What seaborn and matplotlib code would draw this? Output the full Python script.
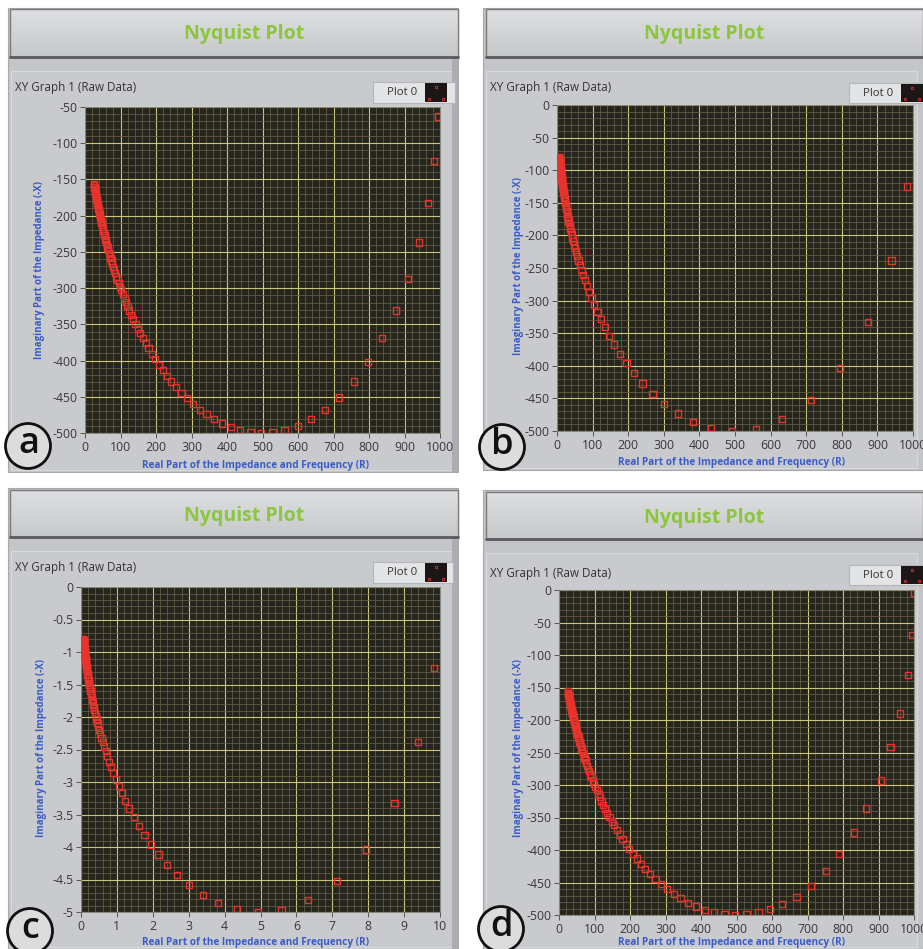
import numpy as np
import matplotlib
matplotlib.use("Agg")
import matplotlib.pyplot as plt
import seaborn as sns
import pandas as pd
from matplotlib.patches import Rectangle, Circle
from matplotlib.ticker import MultipleLocator, FuncFormatter
from matplotlib.colors import LinearSegmentedColormap

# ---------------- data ----------------
A_X = [996, 984, 966, 940, 910, 875, 837, 797, 757, 716,
       676, 636, 599, 562, 528, 496, 466, 437, 411, 386,
       364, 342, 323, 304, 287, 272, 257, 243, 231, 219,
       208, 197, 188, 179, 171, 163, 155, 149, 142, 136,
       130, 125, 120, 115, 111, 106, 102, 98.6, 95.0, 91.6,
       88.3, 85.2, 82.3, 79.5, 76.9, 74.4, 72.0, 69.7, 67.5, 65.4,
       63.4, 61.5, 59.7, 58.0, 56.3, 54.7, 53.1, 51.7, 50.3, 48.9,
       47.6, 46.4, 45.1, 44.0, 42.9, 41.8, 40.8, 39.8, 38.8, 37.9,
       37.0, 36.1, 35.3, 34.5, 33.7, 32.9, 32.2, 31.5, 30.8, 30.2,
       29.5, 28.9, 28.3, 27.7, 27.2, 26.6, 26.1, 25.6, 25.1]
A_Y = [-63, -124, -183, -237, -287, -331, -369, -402, -429, -451,
       -468, -481, -490, -496, -499, -500, -499, -496, -492, -487,
       -481, -474, -468, -460, -452, -445, -437, -429, -421, -413,
       -406, -398, -391, -383, -376, -369, -362, -356, -349, -343,
       -337, -331, -325, -319, -314, -308, -303, -298, -293, -288,
       -284, -279, -275, -271, -266, -262, -258, -255, -251, -247,
       -244, -240, -237, -234, -230, -227, -224, -221, -218, -216,
       -213, -210, -208, -205, -203, -200, -198, -195, -193, -191,
       -189, -187, -185, -182, -180, -178, -177, -175, -173, -171,
       -169, -167, -166, -164, -163, -161, -160, -158, -156]

B_X = [984.1, 939.4, 873.2, 794.9, 712.7, 632.7, 558.6, 492.1, 433.6, 382.7,
       338.8, 301.0, 268.4, 240.3, 216.0, 195.0, 176.6, 160.6, 146.6, 134.2,
       123.3, 113.6, 104.9, 97.2, 90.2, 84.0, 78.4, 73.3, 68.7, 64.4,
       60.6, 57.1, 53.9, 50.9, 48.2, 45.7, 43.3, 41.2, 39.2, 37.3,
       35.6, 34.0, 32.4, 31.0, 29.7, 28.5, 27.3, 26.2, 25.2, 24.2,
       23.3, 22.4, 21.6, 20.8, 20.1, 19.4, 18.7, 18.1, 17.5, 16.9,
       16.4, 15.9, 15.4, 14.9, 14.5, 14.0, 13.6, 13.2, 12.9, 12.5,
       12.1, 11.8, 11.5, 11.2, 10.9, 10.6, 10.3, 10.1, 9.8, 9.6,
       9.4, 9.1, 8.9, 8.7, 8.5, 8.3, 8.1, 7.9, 7.8, 7.6,
       7.4, 7.3, 7.1, 7.0, 6.8, 6.7, 6.5, 6.4]
B_Y = [-125.0, -238.6, -332.7, -403.8, -452.6, -482.1, -496.6, -500.0, -495.6, -486.1,
       -473.3, -458.7, -443.1, -427.3, -411.5, -396.2, -381.3, -367.2, -353.7, -340.9,
       -328.8, -317.3, -306.4, -296.2, -286.5, -277.4, -268.8, -260.6, -252.9, -245.5,
       -238.6, -232.0, -225.8, -219.8, -214.1, -208.7, -203.6, -198.7, -194.0, -189.5,
       -185.2, -181.1, -177.2, -173.4, -169.8, -166.3, -163.0, -159.7, -156.6, -153.7,
       -150.8, -148.0, -145.4, -142.8, -140.3, -137.9, -135.6, -133.3, -131.1, -129.0,
       -127.0, -125.0, -123.1, -121.2, -119.4, -117.6, -115.9, -114.3, -112.6, -111.1,
       -109.6, -108.1, -106.6, -105.2, -103.8, -102.5, -101.2, -99.9, -98.7, -97.5,
       -96.3, -95.1, -94.0, -92.9, -91.9, -90.8, -89.8, -88.8, -87.8, -86.8,
       -85.9, -85.0, -84.1, -83.2, -82.3, -81.5, -80.6, -79.8]

C_X = [9.841, 9.394, 8.732, 7.949, 7.127, 6.327, 5.586, 4.921, 4.336, 3.827,
       3.388, 3.010, 2.684, 2.403, 2.160, 1.950, 1.766, 1.606, 1.466, 1.342,
       1.233, 1.136, 1.049, 0.972, 0.902, 0.840, 0.784, 0.733, 0.687, 0.644,
       0.606, 0.571, 0.539, 0.509, 0.482, 0.457, 0.433, 0.412, 0.392, 0.373,
       0.356, 0.340, 0.324, 0.310, 0.297, 0.285, 0.273, 0.262, 0.252, 0.242,
       0.233, 0.224, 0.216, 0.208, 0.201, 0.194, 0.187, 0.181, 0.175, 0.169,
       0.164, 0.159, 0.154, 0.149, 0.145, 0.140, 0.136, 0.132, 0.129, 0.125,
       0.121, 0.118, 0.115, 0.112, 0.109, 0.106, 0.103, 0.101, 0.098, 0.096,
       0.094, 0.091, 0.089, 0.087, 0.085, 0.083, 0.081, 0.079, 0.078, 0.076,
       0.074, 0.073, 0.071, 0.070, 0.068, 0.067, 0.065, 0.064]
C_Y = [-1.250, -2.386, -3.327, -4.038, -4.526, -4.821, -4.966, -5.000, -4.956, -4.861,
       -4.733, -4.587, -4.431, -4.273, -4.115, -3.962, -3.813, -3.672, -3.537, -3.409,
       -3.288, -3.173, -3.064, -2.962, -2.865, -2.774, -2.688, -2.606, -2.529, -2.455,
       -2.386, -2.320, -2.258, -2.198, -2.141, -2.087, -2.036, -1.987, -1.940, -1.895,
       -1.852, -1.811, -1.772, -1.734, -1.698, -1.663, -1.630, -1.597, -1.566, -1.537,
       -1.508, -1.480, -1.454, -1.428, -1.403, -1.379, -1.356, -1.333, -1.311, -1.290,
       -1.270, -1.250, -1.231, -1.212, -1.194, -1.176, -1.159, -1.143, -1.126, -1.111,
       -1.096, -1.081, -1.066, -1.052, -1.038, -1.025, -1.012, -0.999, -0.987, -0.975,
       -0.963, -0.951, -0.940, -0.929, -0.919, -0.908, -0.898, -0.888, -0.878, -0.868,
       -0.859, -0.850, -0.841, -0.832, -0.823, -0.815, -0.806, -0.798]

D_X = [999, 995, 982, 960, 934, 906, 864, 830, 789, 752,
       709, 669, 629, 594, 562, 528, 496, 466, 437, 411, 386,
       364, 342, 323, 304, 287, 272, 257, 243, 231, 219,
       208, 197, 188, 179, 171, 163, 155, 149, 142, 136,
       130, 125, 120, 115, 111, 106, 102, 98.6, 95.0, 91.6,
       88.3, 85.2, 82.3, 79.5, 76.9, 74.4, 72.0, 69.7, 67.5, 65.4,
       63.4, 61.5, 59.7, 58.0, 56.3, 54.7, 53.1, 51.7, 50.3, 48.9,
       47.6, 46.4, 45.1, 44.0, 42.9, 41.8, 40.8, 39.8, 38.8, 37.9,
       37.0, 36.1, 35.3, 34.5, 33.7, 32.9, 32.2, 31.5, 30.8, 30.2,
       29.5, 28.9, 28.3, 27.7, 27.2, 26.6, 26.1, 25.6, 25.1]
D_Y = [-4, -69, -131, -190, -241, -293, -336, -373, -406, -432,
       -455, -472, -483, -491, -496, -499, -500, -499, -496, -492, -487,
       -481, -474, -468, -460, -452, -445, -437, -429, -421, -413,
       -406, -398, -391, -383, -376, -369, -362, -356, -349, -343,
       -337, -331, -325, -319, -314, -308, -303, -298, -293, -288,
       -284, -279, -275, -271, -266, -262, -258, -255, -251, -247,
       -244, -240, -237, -234, -230, -227, -224, -221, -218, -216,
       -213, -210, -208, -205, -203, -200, -198, -195, -193, -191,
       -189, -187, -185, -182, -180, -178, -177, -175, -173, -171,
       -169, -167, -166, -164, -163, -161, -160, -158, -156]

TITLE = "Nyquist Plot"
CAPTION = "XY Graph 1 (Raw Data)"
LEGEND_LABEL = "Plot 0"
X_LABEL = "Real Part of the Impedance and Frequency (R)"
Y_LABEL = "Imaginary Part of the Impedance (-X)"
PANEL_LETTERS = ["a", "b", "c", "d"]
X_TICKS_OHM = [0, 100, 200, 300, 400, 500, 600, 700, 800, 900, 1000]
X_TICKS_C = [0, 1, 2, 3, 4, 5, 6, 7, 8, 9, 10]
Y_TICKS_A = [-500, -450, -400, -350, -300, -250, -200, -150, -100, -50]
Y_TICKS_BD = [-500, -450, -400, -350, -300, -250, -200, -150, -100, -50, 0]
Y_TICKS_C = [-5, -4.5, -4, -3.5, -3, -2.5, -2, -1.5, -1, -0.5, 0]

# ---------------- style ----------------
sns.set_style("white")
plt.rcParams['font.family'] = ['Open Sans', 'DejaVu Sans']
plt.rcParams['axes.unicode_minus'] = False

W, H = 923, 949
fig = plt.figure(figsize=(W / 100, H / 100), dpi=100)
fig.patch.set_facecolor("white")
bg = fig.add_axes([0, 0, 1, 1], zorder=0)
bg.set_xlim(0, W)
bg.set_ylim(H, 0)
bg.axis("off")

PANEL_GRAY = "#c4c5c8"
BAR_CMAP = LinearSegmentedColormap.from_list("bar", ["#dedfe1", "#c7c8ca"])
PLOT_BG = "#26251d"
MAJOR = "#cbc77a"
MINOR = "#636146"
RED = "#e8332c"
BLUE = "#3a5cc8"
TICK_TXT = "#383838"

panels = [
    dict(data=(A_X, A_Y), xt=X_TICKS_OHM, yt=Y_TICKS_A, xlim=(0, 1000), ylim=(-500, -50),
         xminor=20, yminor=10, panel=(8, 8, 458, 472), bar=(10, 9, 458, 57),
         title=(244, 34), plot=(85, 107, 440, 433), caption=(15, 87),
         legend=(373, 82, 455, 103), circle=(28, 446), xl=(256, 465), yl=(40, 270)),
    dict(data=(B_X, B_Y), xt=X_TICKS_OHM, yt=Y_TICKS_BD, xlim=(0, 1000), ylim=(-500, 0),
         xminor=20, yminor=10, panel=(483, 8, 923, 470), bar=(486, 9, 923, 57),
         title=(704, 34), plot=(557, 105, 913, 431), caption=(490, 87),
         legend=(849, 83, 923, 103), circle=(502, 447), xl=(731, 462), yl=(518, 266)),
    dict(data=(C_X, C_Y), xt=X_TICKS_C, yt=Y_TICKS_C, xlim=(0, 10), ylim=(-5, 0),
         xminor=0.2, yminor=0.1, panel=(8, 488, 458, 949), bar=(10, 490, 458, 537),
         title=(244, 516), plot=(81, 587, 440, 912), caption=(15, 568),
         legend=(373, 562, 453, 583), circle=(30, 931), xl=(256, 942), yl=(42, 748)),
    dict(data=(D_X, D_Y), xt=X_TICKS_OHM, yt=Y_TICKS_BD, xlim=(0, 1000), ylim=(-500, 0),
         xminor=20, yminor=10, panel=(483, 490, 923, 949), bar=(486, 492, 923, 539),
         title=(704, 518), plot=(559, 590, 914, 915), caption=(490, 573),
         legend=(849, 565, 923, 585), circle=(501, 929), xl=(731, 942), yl=(518, 748)),
]

grad = np.linspace(0, 1, 64)[:, None]

for letter, p in zip(PANEL_LETTERS, panels):
    x0, y0, x1, y1 = p["panel"]
    bg.add_patch(Rectangle((x0, y0), x1 - x0, y1 - y0, facecolor=PANEL_GRAY,
                           edgecolor="#a8a9ac", lw=0.8, zorder=1))
    bg.add_patch(Rectangle((x0 + 3, p["bar"][3] + 14), x1 - x0 - 9, y1 - p["bar"][3] - 16,
                           facecolor="#c9cacd", edgecolor="#d8d9db", lw=0.8, zorder=1.2))
    if x1 < W - 5:
        bg.add_patch(Rectangle((x1 - 6, p["bar"][3]), 6, y1 - p["bar"][3],
                               facecolor="#acadb0", edgecolor="none", zorder=1.3))
    bx0, by0, bx1, by1 = p["bar"]
    bg.imshow(grad, extent=(bx0, bx1, by1, by0), cmap=BAR_CMAP, aspect="auto", zorder=2)
    bg.add_patch(Rectangle((bx0, by0), bx1 - bx0, by1 - by0, facecolor="none",
                           edgecolor="#7a7a7c", lw=1.0, zorder=2.1))
    bg.plot([bx0, bx1], [by1, by1], color="#5a5a5c", lw=2.0, zorder=2.2)
    bg.text(p["title"][0], p["title"][1], TITLE, color="#8cc63f", fontsize=14,
            fontweight="bold", ha="center", va="center", zorder=3)
    bg.text(p["caption"][0], p["caption"][1], CAPTION, color="#333333", fontsize=8.4,
            ha="left", va="center", zorder=3)
    lx0, ly0, lx1, ly1 = p["legend"]
    bg.add_patch(Rectangle((lx0, ly0), lx1 - lx0, ly1 - ly0, facecolor="#e3e4e6",
                           edgecolor="#b5b6b8", lw=0.8, zorder=3))
    bg.text(lx0 + 29, (ly0 + ly1) / 2, LEGEND_LABEL, color="#333333", fontsize=8.2,
            ha="center", va="center", zorder=4)
    sx0 = lx0 + 52
    bg.add_patch(Rectangle((sx0, ly0 + 1), 22, ly1 - ly0 - 2, facecolor="#1d1616",
                           edgecolor="none", zorder=4))
    bg.plot([sx0 + 11, sx0 + 4, sx0 + 18], [ly0 + 5, ly1 - 4, ly1 - 4], ls="none",
            marker="s", ms=2, mfc="none", mec="#c0302a", mew=0.7, zorder=5)
    bg.text(p["xl"][0], p["xl"][1], X_LABEL, color=BLUE, fontsize=7.2, fontweight="bold",
            ha="center", va="center", zorder=3)
    bg.text(p["yl"][0], p["yl"][1], Y_LABEL, color=BLUE, fontsize=7.0, fontweight="bold",
            ha="center", va="center", rotation=90, zorder=3)
    cx, cy = p["circle"]
    bg.add_patch(Circle((cx, cy), 22.5, facecolor="#dcdcdc", edgecolor="#111111", lw=2.0,
                        zorder=6))
    bg.text(cx + 0.5, cy - 2, letter, color="#111111", fontsize=26, ha="center",
            va="center", zorder=7, fontweight="semibold")

    # ---------------- plot area ----------------
    px0, py0, px1, py1 = p["plot"]
    ax = fig.add_axes([px0 / W, 1 - py1 / H, (px1 - px0) / W, (py1 - py0) / H], zorder=5)
    ax.set_facecolor(PLOT_BG)
    xs, ys = p["data"]
    df = pd.DataFrame({"real": xs, "imag": ys})
    sns.scatterplot(data=df, x="real", y="imag", ax=ax, marker="s", s=20,
                    color=RED, linewidth=1.0, zorder=4, legend=False)
    coll = ax.collections[-1]
    coll.set_facecolor("none")
    coll.set_edgecolor(RED)
    coll.set_linewidth(1.0)
    ax.set_xlim(*p["xlim"])
    ax.set_ylim(*p["ylim"])
    ax.set_xticks(p["xt"])
    ax.set_yticks(p["yt"])
    ax.xaxis.set_minor_locator(MultipleLocator(p["xminor"]))
    ax.yaxis.set_minor_locator(MultipleLocator(p["yminor"]))
    ax.xaxis.set_major_formatter(FuncFormatter(lambda v, pos: "%g" % v))
    ax.yaxis.set_major_formatter(FuncFormatter(lambda v, pos: "%g" % v))
    ax.grid(which="minor", color=MINOR, lw=0.55, zorder=1)
    ax.grid(which="major", color=MAJOR, lw=0.8, zorder=2)
    ax.set_axisbelow(True)
    ax.tick_params(which="major", direction="out", length=3.5, width=0.7, color="#555555",
                   labelsize=8.8, labelcolor=TICK_TXT, pad=2, bottom=True, left=True)
    ax.tick_params(which="minor", length=0)
    ax.set_xlabel("")
    ax.set_ylabel("")
    for s in ax.spines.values():
        s.set_color("#7d7d70")
        s.set_linewidth(0.6)

fig.savefig("out.png", dpi=100, facecolor="white")
